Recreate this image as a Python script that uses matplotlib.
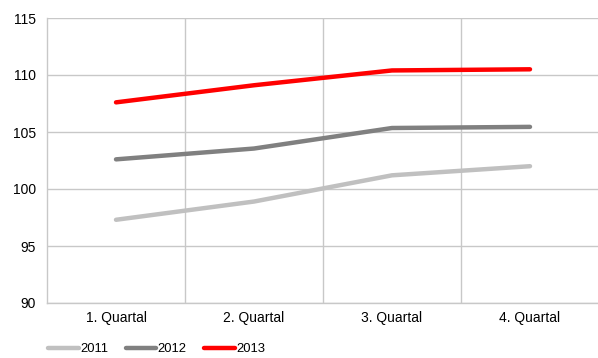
import matplotlib
matplotlib.use("Agg")
import matplotlib.pyplot as plt

categories = ["1. Quartal", "2. Quartal", "3. Quartal", "4. Quartal"]
series_names = ["2011", "2012", "2013"]
v2011 = [97.3, 98.9, 101.2, 102.0]
v2012 = [102.6, 103.55, 105.35, 105.45]
v2013 = [107.6, 109.1, 110.4, 110.5]
yticks = [90, 95, 100, 105, 110, 115]

colors = ["#c0c0c0", "#808080", "#ff0000"]

plt.rcParams['font.family'] = ['Liberation Sans', 'DejaVu Sans']

fig = plt.figure(figsize=(5.98, 3.58), dpi=100)
ax = fig.add_axes([47/598, 1-303/358, 552/598, 285/358])

x = list(range(len(categories)))
for name, vals, c in zip(series_names, [v2011, v2012, v2013], colors):
    ax.plot(x, vals, color=c, lw=3.2, solid_capstyle='round', label=name, zorder=3)

ax.set_xlim(-0.5, 3.5)
ax.set_ylim(90, 115)
ax.set_yticks(yticks)
ax.set_xticks(x)
ax.set_xticklabels(categories)
ax.set_xticks([0.5, 1.5, 2.5], minor=True)
ax.grid(True, axis='y', which='major', color='#c8c8c8', lw=1)
ax.grid(True, axis='x', which='minor', color='#c8c8c8', lw=1)
ax.grid(False, axis='x', which='major')
ax.tick_params(axis='both', which='both', length=0, labelsize=10, colors='#000000')
ax.tick_params(axis='x', pad=6)
ax.tick_params(axis='y', pad=8)
for s in ['top', 'right']:
    ax.spines[s].set_visible(False)
for s in ['left', 'bottom']:
    ax.spines[s].set_color('#c8c8c8')
    ax.spines[s].set_linewidth(1)

leg = fig.legend(loc='center left', bbox_to_anchor=(48/598, 1-349/358), ncol=3, frameon=False,
                 fontsize=9.4, handlelength=2.35, handletextpad=0.1, columnspacing=1.35,
                 borderpad=0.0, borderaxespad=0.0)

fig.savefig("out.png", dpi=100)
